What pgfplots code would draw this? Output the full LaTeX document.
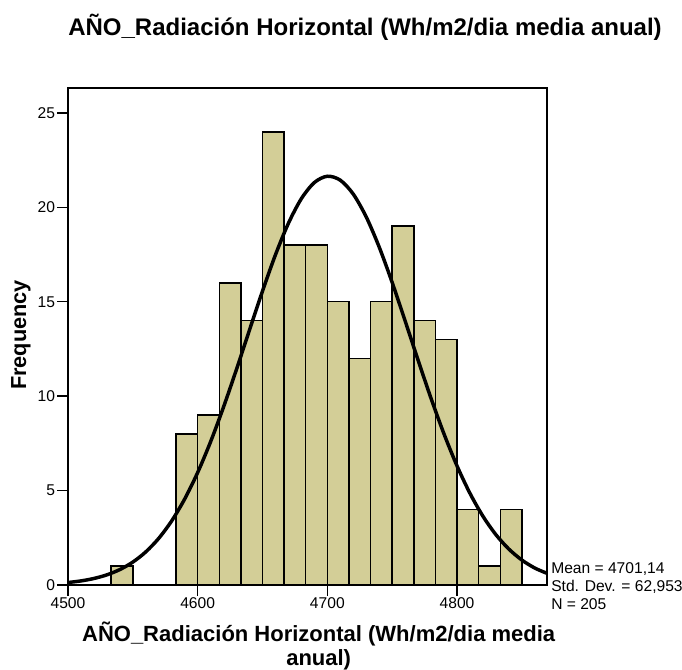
\documentclass[border=0pt]{standalone}
\usepackage{fontspec}
\setmainfont{Liberation Sans}
\usepackage{pgfplots}
\pgfplotsset{compat=1.18}
\definecolor{barcol}{RGB}{211,206,151}
\begin{document}
\begin{tikzpicture}
\path[use as bounding box] (-51pt,-63.75pt) rectangle (460.5pt,438.75pt);
\begin{axis}[
  at={(0pt,0pt)}, anchor=south west,
  scale only axis,
  width=359.25pt, height=372.75pt,
  xmin=4500, xmax=4869.4, ymin=0, ymax=26.32,
  xtick={4500,4600,4700,4800},
  ytick={0,5,10,15,20,25},
  axis line style={line width=1.1pt},
  tick style={line width=1.1pt, black},
  major tick length=8pt,
  tick align=outside,
  xtick pos=bottom, ytick pos=left,
  /pgf/number format/assume math mode=true,
  /pgf/number format/1000 sep={},
  ticklabel style={font=\fontsize{11.7}{14}\selectfont, inner sep=1.5pt},
]
\addplot[ybar interval, fill=barcol, draw=black, line width=1.1pt] coordinates {
(4533.333,1) (4550,0) (4566.667,0) (4583.333,8) (4600,9) (4616.667,16)
(4633.333,14) (4650,24) (4666.667,18) (4683.333,18) (4700,15) (4716.667,12)
(4733.333,15) (4750,19) (4766.667,14) (4783.333,13) (4800,4) (4816.667,1)
(4833.333,4) (4850,4)
};
\addplot[smooth, black, line width=2.6pt] coordinates {
(4500,0.131) (4510,0.216) (4520,0.345) (4530,0.538) (4540,0.818) (4550,1.213)
(4560,1.754) (4570,2.472) (4580,3.399) (4590,4.556) (4600,5.956) (4610,7.592)
(4620,9.435) (4630,11.433) (4640,13.510) (4650,15.565) (4660,17.488) (4670,19.157)
(4680,20.463) (4690,21.314) (4700,21.647) (4710,21.437) (4720,20.700) (4730,19.490)
(4740,17.894) (4750,16.020) (4760,13.984) (4770,11.903) (4780,9.879) (4790,7.995)
(4800,6.309) (4810,4.854) (4820,3.642) (4830,2.664) (4840,1.901) (4850,1.322)
(4860,0.897) (4869.4,0.619)
};
\end{axis}
\node[font=\fontsize{18}{21}\selectfont\bfseries] at (222.75pt,418.5pt) {AÑO\_Radiación Horizontal (Wh/m2/dia media anual)};
\node[font=\fontsize{16.3}{19}\selectfont\bfseries, rotate=90] at (-35.25pt,187.5pt) {Frequency};
\node[font=\fontsize{16.5}{17.8}\selectfont\bfseries, align=center] at (188pt,-46pt) {AÑO\_Radiación Horizontal (Wh/m2/dia media\\anual)};
\node[font=\fontsize{11.7}{14}\selectfont, anchor=base west, inner sep=0pt] at (362.25pt,8.25pt) {Mean = 4701,14};
\node[font=\fontsize{11.7}{14}\selectfont, anchor=base west, inner sep=0pt] at (362.25pt,-5pt) {Std. Dev. = 62,953};
\node[font=\fontsize{11.7}{14}\selectfont, anchor=base west, inner sep=0pt] at (362.25pt,-18.75pt) {N = 205};
\end{tikzpicture}
\end{document}
